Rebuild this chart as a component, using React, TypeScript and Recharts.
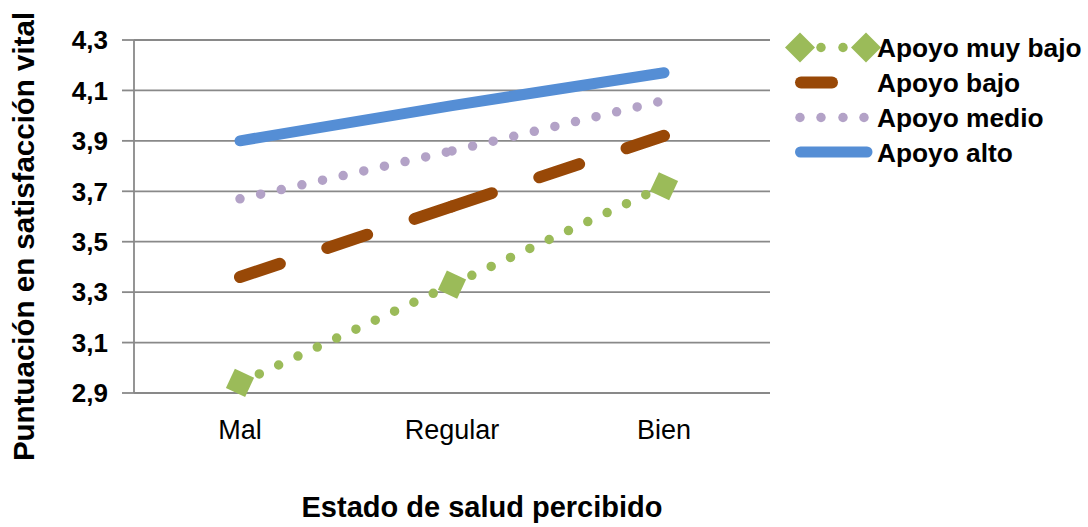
import React from 'react';
import { LineChart, Line, XAxis, YAxis, CartesianGrid, Legend } from 'recharts';

const categories = ['Mal', 'Regular', 'Bien'];
const apoyoMuyBajo = [2.94, 3.33, 3.72];
const apoyoBajo = [3.36, 3.64, 3.92];
const apoyoMedio = [3.67, 3.86, 4.06];
const apoyoAlto = [3.9, 4.04, 4.17];
const yTicks = [2.9, 3.1, 3.3, 3.5, 3.7, 3.9, 4.1, 4.3];
const seriesNames = ['Apoyo muy bajo', 'Apoyo bajo', 'Apoyo medio', 'Apoyo alto'];
const xTitle = 'Estado de salud percibido';
const yTitle = 'Puntuación en satisfacción vital';

const GREEN = '#9BBB59';
const BROWN = '#984807';
const PURPLE = '#B3A2C7';
const BLUE = '#558ED5';
const GRID = '#898989';
const FONT = '"Liberation Sans", Arial, sans-serif';

// Excel restarts the dash pattern on every segment, so dashed/dotted series are split per segment
const data = categories.map((c, i) => ({
  cat: c,
  muyBajo: apoyoMuyBajo[i],
  bajoA: i <= 1 ? apoyoBajo[i] : null,
  bajoB: i >= 1 ? apoyoBajo[i] : null,
  medioA: i <= 1 ? apoyoMedio[i] : null,
  medioB: i >= 1 ? apoyoMedio[i] : null,
  alto: apoyoAlto[i],
}));

const diamondPoints = (cx: number, cy: number, R: number, start: number) =>
  [0, 90, 180, 270]
    .map((a) => {
      const r = ((a + start) * Math.PI) / 180;
      return `${cx + R * Math.cos(r)},${cy + R * Math.sin(r)}`;
    })
    .join(' ');

const DiamondDot = (props: any) => {
  const { cx, cy, index } = props;
  if (cx == null || cy == null || isNaN(cx) || isNaN(cy)) return <g key={`d${index}`} />;
  return <polygon key={`d${index}`} points={diamondPoints(cx, cy, 15, -20)} fill={GREEN} />;
};

const LegendContent = () => {
  const ox = 778;
  const oy = 22;
  const tx = 877 - ox;
  const baselines = [57, 92, 127, 161.5].map((b) => b - oy);
  const cy = baselines.map((b) => b - 9.5);
  return (
    <svg width={310} height={160} style={{ display: 'block', overflow: 'visible' }}>
      <polygon points={diamondPoints(800 - ox, cy[0], 15, 0)} fill={GREEN} />
      <circle cx={821 - ox} cy={cy[0]} r={4.75} fill={GREEN} />
      <circle cx={843 - ox} cy={cy[0]} r={4.75} fill={GREEN} />
      <polygon points={diamondPoints(866 - ox, cy[0], 15, 0)} fill={GREEN} />
      <line x1={801 - ox} x2={832 - ox} y1={cy[1]} y2={cy[1]} stroke={BROWN} strokeWidth={12} strokeLinecap="round" />
      {[800, 821, 843, 864].map((x) => (
        <circle key={x} cx={x - ox} cy={cy[2]} r={4.75} fill={PURPLE} />
      ))}
      <line x1={800.5 - ox} x2={867 - ox} y1={cy[3]} y2={cy[3]} stroke={BLUE} strokeWidth={11} strokeLinecap="round" />
      {seriesNames.map((n, i) => (
        <text key={n} x={tx} y={baselines[i]} fontSize={26.3} fontWeight="bold" fill="#000" fontFamily={FONT}>
          {n}
        </text>
      ))}
    </svg>
  );
};

const YTitle = () => (
  <text
    x={33.5}
    y={236.5}
    transform="rotate(-90 33.5 236.5)"
    textAnchor="middle"
    fontSize={29.5}
    fontWeight="bold"
    fill="#000"
    fontFamily={FONT}
  >
    {yTitle}
  </text>
);

const XTitle = () => (
  <text x={482} y={517} textAnchor="middle" fontSize={29} fontWeight="bold" fill="#000" fontFamily={FONT}>
    {xTitle}
  </text>
);

export default function App() {
  return (
    <div style={{ position: 'absolute', left: 0, top: 0, width: 1088, height: 527, background: '#fff' }}>
      <LineChart
        width={1088}
        height={527}
        data={data}
        margin={{ top: 40, right: 318, bottom: 0, left: 0 }}
        style={{ fontFamily: FONT }}
      >
        <CartesianGrid horizontal vertical={false} stroke={GRID} strokeWidth={1.8} />
        <XAxis
          dataKey="cat"
          height={134}
          padding={{ left: 106, right: 106 }}
          axisLine={{ stroke: GRID, strokeWidth: 1.8 }}
          tickLine={false}
          tickSize={8}
          tickMargin={19}
          tick={{ fill: '#000', fontSize: 27, fontFamily: FONT }}
          label={<XTitle />}
        />
        <YAxis
          type="number"
          domain={[2.9, 4.3]}
          ticks={yTicks}
          width={134}
          interval={0}
          axisLine={{ stroke: GRID, strokeWidth: 1.8 }}
          tickLine={{ stroke: GRID, strokeWidth: 1.8 }}
          tickSize={12}
          tickMargin={14}
          tickFormatter={(v: number) => v.toFixed(1).replace('.', ',')}
          tick={{ fill: '#000', fontSize: 26, fontWeight: 'bold', fontFamily: FONT }}
          label={<YTitle />}
        />
        <Legend
          layout="vertical"
          align="center"
          verticalAlign="middle"
          content={<LegendContent />}
          wrapperStyle={{ position: 'absolute', left: 778, top: 22, width: 310, height: 160 }}
        />
        <Line
          name={seriesNames[0]}
          dataKey="muyBajo"
          stroke={GREEN}
          strokeWidth={9.5}
          strokeDasharray="0 21.3"
          strokeLinecap="round"
          dot={(p: any) => <DiamondDot {...p} key={`dd${p.index}`} />}
          activeDot={false}
          isAnimationActive={false}
        />
        <Line
          name={seriesNames[1]}
          dataKey="bajoA"
          stroke={BROWN}
          strokeWidth={12}
          strokeDasharray="42 50"
          strokeLinecap="round"
          dot={false}
          activeDot={false}
          isAnimationActive={false}
        />
        <Line
          name={seriesNames[1] + ' '}
          legendType="none"
          dataKey="bajoB"
          stroke={BROWN}
          strokeWidth={12}
          strokeDasharray="42 50"
          strokeLinecap="round"
          dot={false}
          activeDot={false}
          isAnimationActive={false}
        />
        <Line
          name={seriesNames[2]}
          dataKey="medioA"
          stroke={PURPLE}
          strokeWidth={9.5}
          strokeDasharray="0 21.15"
          strokeLinecap="round"
          dot={false}
          activeDot={false}
          isAnimationActive={false}
        />
        <Line
          name={seriesNames[2] + ' '}
          legendType="none"
          dataKey="medioB"
          stroke={PURPLE}
          strokeWidth={9.5}
          strokeDasharray="0 21.15"
          strokeLinecap="round"
          dot={false}
          activeDot={false}
          isAnimationActive={false}
        />
        <Line
          name={seriesNames[3]}
          dataKey="alto"
          stroke={BLUE}
          strokeWidth={11}
          strokeLinecap="round"
          dot={false}
          activeDot={false}
          isAnimationActive={false}
        />
      </LineChart>
    </div>
  );
}
